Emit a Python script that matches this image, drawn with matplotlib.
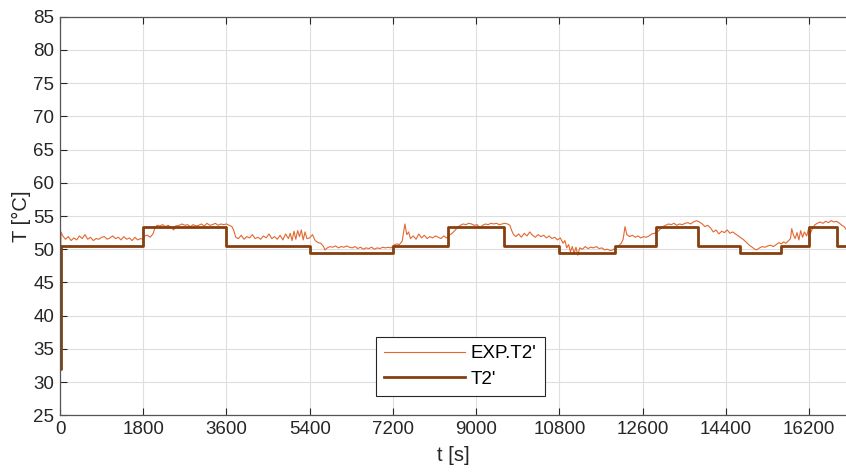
import matplotlib
matplotlib.use("Agg")
import matplotlib.pyplot as plt

plt.rcParams['font.family'] = ['Liberation Sans', 'DejaVu Sans']

exp_t = [0, 20, 60, 120, 180, 240, 300, 360, 420, 480, 540, 600, 660, 720, 780, 840, 900, 960,
         1020, 1080, 1140, 1200, 1260, 1320, 1380, 1440, 1500, 1560, 1620, 1680, 1740, 1790,
         1830, 1890, 1950, 2010, 2060, 2100, 2160, 2220, 2280, 2340, 2400, 2460, 2500, 2580,
         2640, 2700, 2760, 2820, 2880, 2940, 3000, 3060, 3120, 3180, 3240, 3300, 3360, 3420,
         3480, 3540, 3600, 3660, 3720, 3760, 3800,
         3860, 3920, 3980, 4040, 4100, 4160, 4220, 4280, 4340, 4400, 4460, 4520, 4580, 4640,
         4700, 4760, 4820, 4880, 4940, 4980, 5020, 5060, 5100, 5140, 5180, 5220, 5260, 5300,
         5340, 5400, 5460, 5520, 5580, 5640, 5700, 5730,
         5780, 5840, 5900, 5960, 6020, 6080, 6140, 6200, 6260, 6320, 6380, 6440, 6500, 6560,
         6620, 6680, 6740, 6800, 6860, 6920, 6980, 7040, 7100, 7160, 7220, 7280, 7340, 7400,
         7460, 7500, 7540,
         7580, 7640, 7700, 7760, 7820, 7880, 7940, 8000, 8060, 8120, 8180, 8240, 8300, 8360,
         8420, 8480, 8540, 8600, 8660, 8720, 8780, 8840, 8900, 8960, 9020, 9085, 9140, 9200,
         9260, 9320, 9380, 9440, 9500, 9560, 9620, 9680, 9730, 9770, 9810,
         9860, 9920, 9980, 10040, 10100, 10160, 10220, 10280, 10340, 10400, 10460, 10520,
         10580, 10640, 10700, 10760, 10820, 10880, 10920, 10960, 11000, 11040, 11080, 11120,
         11160, 11200, 11240, 11300, 11360, 11420, 11480, 11540, 11600, 11660, 11720, 11780,
         11840, 11900, 11960, 12020, 12080, 12140, 12180, 12220, 12260, 12320, 12380, 12440,
         12500, 12560, 12620, 12680, 12740, 12800, 12860, 12920, 12980, 13040, 13100, 13160,
         13220, 13280, 13340, 13400, 13460, 13520, 13580, 13640, 13700, 13770, 13830, 13890,
         13950, 14010, 14070, 14130, 14190, 14250, 14310, 14370, 14430, 14490, 14550, 14610,
         14670, 14730, 14790, 14850, 14910, 14970, 15030, 15070, 15130, 15190, 15250, 15310,
         15370, 15430, 15490, 15550, 15600, 15650, 15700, 15760, 15800, 15826, 15860, 15900,
         15940, 15980, 16020, 16060, 16100, 16150, 16190, 16230, 16280, 16330, 16380, 16440,
         16500, 16560, 16620, 16680, 16740, 16800, 16860, 16910, 16960, 17000]
exp_T = [32.0, 52.6, 52.0, 51.5, 51.9, 51.3, 51.7, 51.4, 52.0, 51.6, 52.2, 51.5, 51.8, 51.3, 51.6, 51.5, 51.8, 51.9,
         51.5, 51.7, 52.0, 51.6, 51.8, 51.4, 51.9, 51.5, 51.7, 51.3, 51.8, 51.4, 51.6, 51.5,
         52.0, 52.1, 51.8, 52.3, 53.3, 53.6, 53.5, 53.7, 53.4, 53.6, 53.3, 52.9, 53.5, 53.6,
         53.8, 53.6, 53.7, 53.4, 53.7, 53.5, 53.6, 53.8, 53.5, 53.9, 53.6, 53.7, 53.9, 53.6,
         53.8, 53.7, 53.8, 53.6, 53.4, 52.8, 51.8,
         51.6, 52.1, 51.5, 51.9, 51.7, 52.2, 51.6, 51.8, 51.5, 52.0, 51.7, 52.3, 51.6, 51.9,
         51.5, 52.1, 51.4, 52.3, 51.6, 52.4, 51.3, 52.7, 51.5, 52.8, 51.9, 52.9, 51.4, 52.6,
         51.6, 51.7, 52.2, 51.3, 51.0, 50.9, 50.4, 49.9,
         50.2, 50.4, 50.3, 50.5, 50.2, 50.4, 50.3, 50.5, 50.3, 50.2, 50.4, 50.1, 50.3, 50.0,
         50.2, 50.1, 50.3, 50.0, 50.2, 50.1, 50.3, 50.2, 50.3, 50.2, 50.6, 50.8, 50.7, 51.2,
         53.8, 52.2, 52.6,
         51.6, 52.0, 51.5, 52.3, 51.7, 52.1, 51.6, 51.9, 51.7, 52.0, 51.8, 51.6, 52.0, 51.7,
         52.1, 52.4, 52.8, 53.3, 53.6, 53.8, 53.7, 53.9, 53.8, 53.6, 53.7, 53.2, 53.6, 53.8,
         53.7, 53.9, 53.8, 53.9, 53.7, 53.8, 53.9, 53.8, 53.6, 52.8, 52.2,
         51.9, 52.3, 51.8, 52.4, 52.0, 52.6, 52.1, 51.8, 52.2, 51.9, 52.1, 51.7,
         52.0, 51.6, 51.8, 51.4, 51.7, 50.9, 51.3, 50.2, 50.7, 49.6, 50.4, 49.4,
         50.3, 49.1, 50.2, 50.0, 50.4, 50.1, 50.3, 50.2, 50.4, 50.1, 50.2, 49.9,
         50.0, 49.8, 49.9, 50.3, 50.5, 50.9, 51.5, 53.4, 52.2, 51.9, 52.1, 51.8,
         52.0, 51.7, 51.9, 51.8, 52.0, 52.3, 52.4, 52.6, 53.0, 53.4, 53.6, 53.8,
         53.7, 53.9, 53.6, 53.8, 53.7, 53.9, 54.0, 53.8, 54.1, 54.3, 54.1, 53.8,
         53.4, 53.6, 53.2, 52.6, 52.9, 52.3, 52.7, 52.5, 52.9, 52.4, 52.6, 52.3,
         52.0, 51.7, 51.4, 51.0, 50.6, 50.3, 50.0, 49.9, 50.2, 50.4, 50.3, 50.5,
         50.6, 50.4, 50.7, 51.0, 50.8, 51.1, 50.9, 51.3, 51.6, 53.1, 52.2, 51.6,
         52.5, 51.4, 52.8, 51.8, 52.6, 52.0, 53.1, 52.4, 53.2, 53.7, 53.9, 54.1,
         53.9, 54.2, 54.0, 54.3, 54.1, 54.2, 53.9, 53.6, 53.4, 53.0]

# model T2' (step profile)
model_t = [0, 25, 1800, 3600, 5400, 7200, 8400, 9600, 10800, 12000, 12900, 13800, 14700,
           15600, 16200, 16800, 17000]
model_T = [32.0, 50.5, 53.3, 50.5, 49.5, 50.5, 53.3, 50.5, 49.5, 50.5, 53.3, 50.5, 49.5,
           50.5, 53.3, 50.5, 50.5]

x_ticks = [0, 1800, 3600, 5400, 7200, 9000, 10800, 12600, 14400, 16200]
y_ticks = list(range(25, 90, 5))

fig = plt.figure(figsize=(8.46, 4.72), dpi=100)
ax = fig.add_axes([60 / 846, 1 - 415.3 / 472, 786 / 846, 398.6 / 472])

ax.plot(exp_t, exp_T, color='#E2682F', lw=0.8, label="EXP.T2'")
ax.plot(model_t, model_T, color='#86400F', lw=2.0, drawstyle='steps-post', label="T2'")

ax.set_xlim(0, 17000)
ax.set_ylim(25, 85)
ax.set_xticks(x_ticks)
ax.set_yticks(y_ticks)
ax.grid(True, color='#DEDEDE', lw=0.8)
ax.set_axisbelow(True)
ax.tick_params(direction='in', top=True, right=False, length=5, width=0.8,
               labelsize=13.5, colors='#262626', pad=4)
for s in ax.spines.values():
    s.set_color('#555555')
    s.set_linewidth(0.9)
ax.spines['right'].set_visible(False)

ax.set_xlabel('t [s]', fontsize=14.5, color='#262626', labelpad=6)
ax.set_ylabel('T [°C]', fontsize=14.5, color='#262626', labelpad=2)

leg = ax.legend(loc='lower left', bbox_to_anchor=(0.402, 0.048), fontsize=13.5,
                handlelength=4.3, fancybox=False, framealpha=1, borderaxespad=0,
                handletextpad=0.3, labelspacing=0.45, borderpad=0.45)
leg.get_frame().set_edgecolor('#262626')
leg.get_frame().set_linewidth(0.8)

fig.savefig('out.png', dpi=100)
